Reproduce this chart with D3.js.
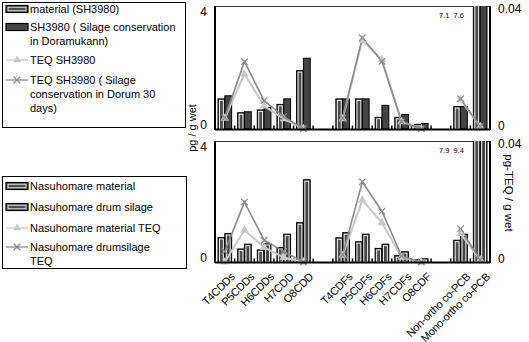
<!DOCTYPE html>
<html><head><meta charset="utf-8">
<script src="https://cdn.jsdelivr.net/npm/d3@7"></script>
<style>
body{margin:0;background:#fff;}
text{font-family:"Liberation Sans",Arial,sans-serif;fill:#000;}
</style></head>
<body><svg id="c" width="529" height="342"></svg>
<script>
// ---- data ----
const categories = ["T4CDDs","P5CDDs","H6CDDs","H7CDD","O8CDD","","T4CDFs","P5CDFs","H6CDFs","H7CDFs","O8CDF","","Non-ortho co-PCB","Mono-ortho co-PCB"];
// top panel (SH3980)
const sh3980Material = [0.98,0.53,0.62,0.80,1.90,null,0.98,0.98,0.38,0.38,0.15,null,0.73,7.1];
const sh3980Silage   = [1.08,0.56,0.70,0.98,2.30,null,0.98,0.98,0.77,0.47,0.18,null,0.73,7.6];
const teqSh3980        = [0.0035,0.0179,0.0075,0.0033,0.0001,null,0.0033,0.0288,0.0225,0.0024,0.0001,null,0.0095,0.0008];
const teqSh3980Silage  = [0.0037,0.0219,0.0092,0.0040,0.0001,null,0.0035,0.0297,0.0220,0.0024,0.0001,null,0.0098,0.0008];
// bottom panel (Nasuhomare)
const nasuMaterial = [0.81,0.43,0.40,0.48,1.30,null,0.80,0.67,0.45,0.21,0.08,null,0.72,7.9];
const nasuSilage   = [0.94,0.59,0.61,0.92,2.72,null,0.97,0.92,0.59,0.34,0.11,null,0.92,9.4];
const teqNasuMaterial = [0,0.0106,0.0048,0.0015,0,null,0.0022,0.0204,0.0130,0.0016,0,null,0.0094,0.0007];
const teqNasuSilage   = [0.0035,0.0198,0.0072,0.0035,0,null,0.0024,0.0265,0.0168,0.0020,0,null,0.0110,0.0007];
const leftTicks = [0,4];
const rightTicks = [0,0.04];
const legendTop = ["material (SH3980)","SH3980 ( Silage conservation\nin Doramukann)","TEQ SH3980","TEQ SH3980 ( Silage\nconservation in Dorum 30\ndays)"];
const legendBottom = ["Nasuhomare material","Nasuhomare  drum silage","Nasuhomare material TEQ","Nasuhomare drumsilage\nTEQ"];

// ---- layout ----
const svg = d3.select("#c");
const X0 = 215, X1 = 490;
const x = d3.scaleBand().domain(d3.range(categories.length)).range([X0, X1]).paddingInner(0).paddingOuter(0);
const xs = d3.scaleBand().domain([0,1]).range([0, x.bandwidth()]).paddingInner(0).paddingOuter(0.44);
const BAR_FILL = "#4d4d4d", BAR_FILL2 = "#444";
const TEQ1 = "#c8c8c8", TEQ2 = "#8a8a8a";

const panels = [
  {top:6, bot:129, s1:sh3980Material, s2:sh3980Silage, t1:teqSh3980, t2:teqSh3980Silage, inner:[true,false], labels:["7.1","7.6"]},
  {top:141, bot:262, s1:nasuMaterial, s2:nasuSilage, t1:teqNasuMaterial, t2:teqNasuSilage, inner:[true,true], labels:["7.9","9.4"]}
];

function xMarker(g, color){
  g.append("path").attr("d","M-3.2,-3.2L3.2,3.2M-3.2,3.2L3.2,-3.2").attr("stroke",color).attr("stroke-width",1.3).attr("fill","none");
}

panels.forEach((p, pi) => {
  const y = d3.scaleLinear().domain([0,4]).range([p.bot, p.top]);
  const yr = d3.scaleLinear().domain([0,0.04]).range([p.bot, p.top]);
  const cid = "clip"+pi;
  svg.append("clipPath").attr("id",cid).append("rect").attr("x",X0).attr("y",p.top).attr("width",X1-X0).attr("height",p.bot-p.top);
  // top border
  svg.append("line").attr("x1",X0).attr("x2",X1).attr("y1",p.top+0.5).attr("y2",p.top+0.5).attr("stroke","#333").attr("stroke-width",1);
  const gb = svg.append("g").attr("clip-path",`url(#${cid})`);
  [p.s1, p.s2].forEach((s, si) => {
    s.forEach((v, i) => {
      if (v == null) return;
      const bx = x(i) + xs(si), bw = xs.bandwidth();
      const by = y(v), bh = p.bot - y(v);
      gb.append("rect").attr("x",bx).attr("y",by).attr("width",bw).attr("height",bh)
        .attr("fill", si===0?BAR_FILL:BAR_FILL2).attr("stroke","#000").attr("stroke-width",1);
      if (p.inner[si]) {
        gb.append("rect").attr("x",bx+1.5).attr("y",by+1.5).attr("width",Math.max(0,bw-3)).attr("height",Math.max(0,bh-1.5))
          .attr("fill","none").attr("stroke","#fff").attr("stroke-width",0.9);
      }
    });
  });
  // value labels for clipped bars
  const last = categories.length-1;
  [p.s1[last], p.s2[last]].forEach((v, si) => {
    svg.append("text").attr("x", x(last) - 21 + si*14.5).attr("y", p.top + 12)
      .attr("text-anchor","end").attr("font-size",7.5).text(p.labels[si]);
  });
  // boundary ticks
  d3.range(1, categories.length).forEach(k => {
    const bx = X0 + k*x.step();
    svg.append("line").attr("x1",bx).attr("x2",bx).attr("y1",p.bot).attr("y2",p.bot-3.5).attr("stroke","#000").attr("stroke-width",1.5);
  });
  // lines
  const cx = i => x(i) + x.bandwidth()/2;
  const line = d3.line().defined(d => d.v != null).x(d => cx(d.i)).y(d => yr(d.v));
  const d1 = p.t1.map((v,i)=>({v,i})), d2 = p.t2.map((v,i)=>({v,i}));
  svg.append("path").attr("d",line(d1)).attr("fill","none").attr("stroke",TEQ1).attr("stroke-width",2);
  svg.append("path").attr("d",line(d2)).attr("fill","none").attr("stroke",TEQ2).attr("stroke-width",1.6);
  d1.filter(d=>d.v!=null).forEach(d => {
    svg.append("path").attr("transform",`translate(${cx(d.i)},${yr(d.v)})`).attr("d",d3.symbol(d3.symbolTriangle,32)()).attr("fill",TEQ1);
  });
  d2.filter(d=>d.v!=null).forEach(d => {
    xMarker(svg.append("g").attr("transform",`translate(${cx(d.i)},${yr(d.v)})`), TEQ2);
  });
  // axes lines
  svg.append("line").attr("x1",X0).attr("x2",X0).attr("y1",p.top).attr("y2",p.bot+1).attr("stroke","#000").attr("stroke-width",2);
  svg.append("line").attr("x1",X1).attr("x2",X1).attr("y1",p.top).attr("y2",p.bot+1).attr("stroke","#000").attr("stroke-width",2);
  svg.append("line").attr("x1",X0).attr("x2",X1).attr("y1",p.bot+0.5).attr("y2",p.bot+0.5).attr("stroke","#000").attr("stroke-width",2);
  // tick labels
  const la = svg.append("g").attr("transform",`translate(${X0-5},0)`)
    .call(d3.axisLeft(y).tickValues(leftTicks).tickSize(0).tickFormat(d3.format("d")));
  la.select(".domain").remove();
  la.selectAll("text").attr("font-size",12).attr("font-family","Liberation Sans, Arial").attr("fill","#000")
    .attr("dy", d => d===0 ? "-0.05em" : "0.75em");
  const ra = svg.append("g").attr("transform",`translate(${X1+5},0)`)
    .call(d3.axisRight(yr).tickValues(rightTicks).tickSize(0).tickFormat(d => d===0?"0":"0.04"));
  ra.select(".domain").remove();
  ra.selectAll("text").attr("font-size",12).attr("font-family","Liberation Sans, Arial").attr("fill","#000")
    .attr("dy", d => d===0 ? "0.05em" : "0.55em");
});

// x labels under bottom panel
const xa = svg.append("g").attr("transform",`translate(0,${panels[1].bot})`)
  .call(d3.axisBottom(x).tickSize(0).tickFormat(i => categories[i]));
xa.select(".domain").remove();
xa.selectAll("text").attr("font-size",11).attr("font-family","Liberation Sans, Arial").attr("fill","#000")
  .attr("text-anchor","end").attr("letter-spacing","-0.3")
  .attr("transform","translate(3,8) rotate(-45)").attr("dy","0.7em").attr("dx","0");

// axis titles
svg.append("text").attr("transform","translate(196,128) rotate(-90)").attr("text-anchor","middle").attr("font-size",11).text("pg / g wet");
svg.append("text").attr("transform","translate(505,193) rotate(90)").attr("text-anchor","middle").attr("font-size",11.5).text("pg-TEQ / g wet");

// legends
function legend(x0, y0, w, h, items, rowsY, styles){
  svg.append("rect").attr("x",x0+0.5).attr("y",y0+0.5).attr("width",w).attr("height",h).attr("fill","#fff").attr("stroke","#000").attr("stroke-width",1);
  items.forEach((t, i) => {
    const ry = rowsY[i];
    const st = styles[i];
    if (st.type === "bar") {
      svg.append("rect").attr("x",x0+4).attr("y",ry-3.5).attr("width",22).attr("height",7).attr("fill",st.fill).attr("stroke","#000").attr("stroke-width",1.2);
      if (st.inner) svg.append("rect").attr("x",x0+6).attr("y",ry-1.8).attr("width",18).attr("height",3.6).attr("fill","none").attr("stroke","#fff").attr("stroke-width",0.8);
    } else {
      svg.append("line").attr("x1",x0+4).attr("x2",x0+26).attr("y1",ry).attr("y2",ry).attr("stroke",st.color).attr("stroke-width",1.3);
      if (st.type === "tri") svg.append("path").attr("transform",`translate(${x0+15},${ry})`).attr("d",d3.symbol(d3.symbolTriangle,26)()).attr("fill",st.color);
      else xMarker(svg.append("g").attr("transform",`translate(${x0+15},${ry})`), st.color);
    }
    const lines = t.split("\n");
    const tx = svg.append("text").attr("x",x0+28).attr("y",ry).attr("font-size",11).attr("dy","0.35em");
    lines.forEach((ln, k) => tx.append("tspan").attr("x",x0+28).attr("dy", k===0?"0.35em":"1.3em").text(ln));
  });
}
legend(2, 2, 183, 125, legendTop, [9,27,60,80],
  [{type:"bar",fill:BAR_FILL,inner:true},{type:"bar",fill:BAR_FILL2,inner:false},{type:"tri",color:TEQ1},{type:"x",color:TEQ2}]);
legend(2, 176, 184, 92, legendBottom, [186,207,228,247],
  [{type:"bar",fill:BAR_FILL,inner:true},{type:"bar",fill:BAR_FILL,inner:true},{type:"tri",color:TEQ1},{type:"x",color:TEQ2}]);
</script></body></html>
